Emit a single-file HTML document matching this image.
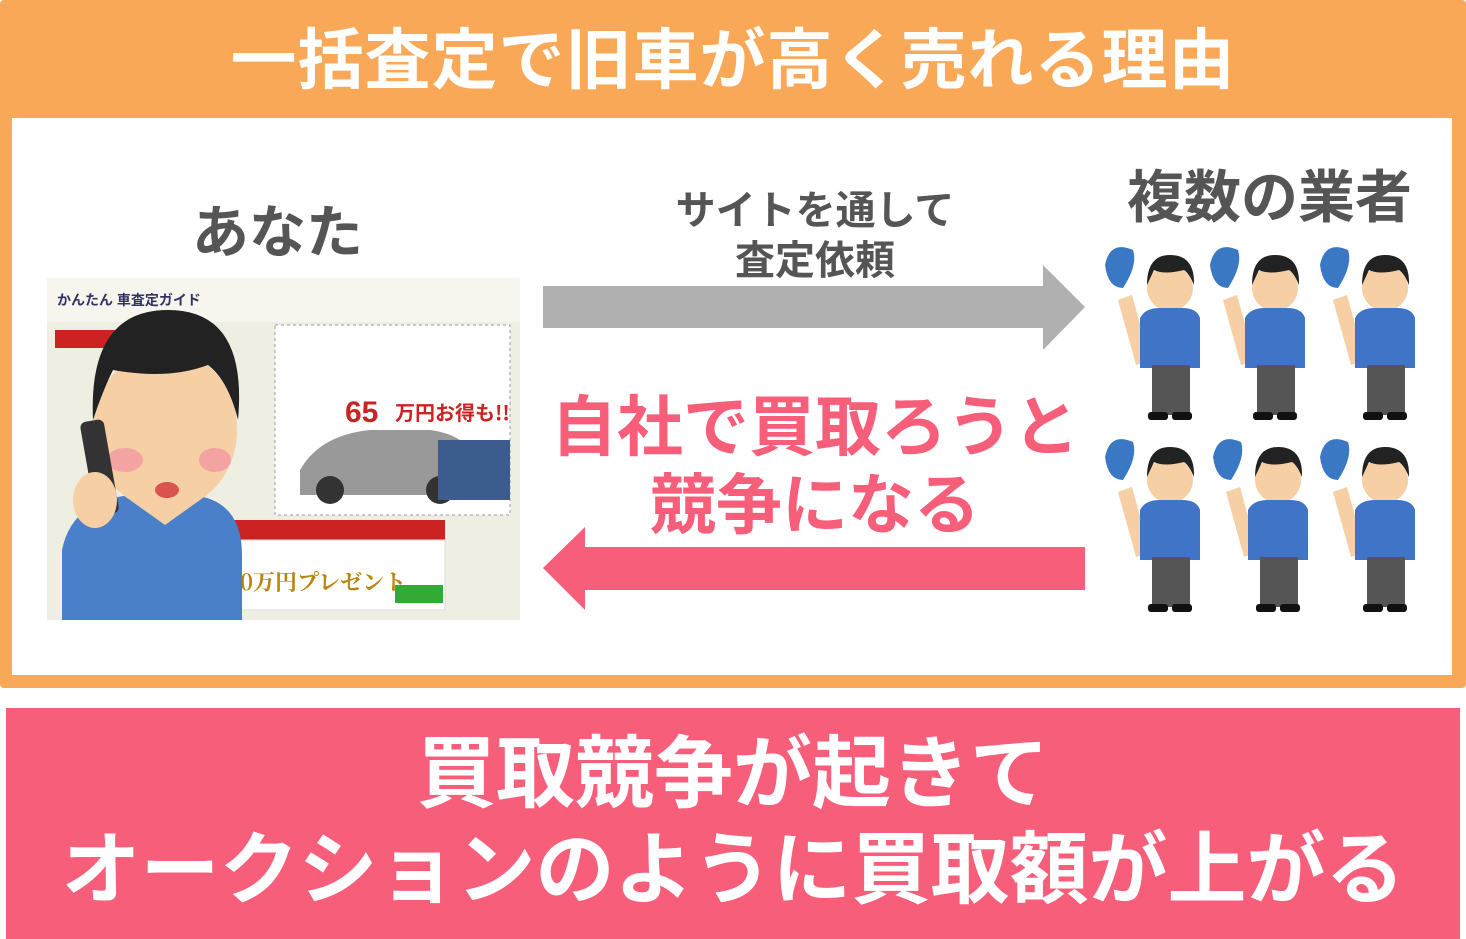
<!DOCTYPE html>
<html><head><meta charset="utf-8"><style>
body{margin:0;width:1466px;height:939px;background:#fff;position:relative;overflow:hidden;font-family:"Liberation Sans","Noto Sans CJK JP",sans-serif;font-weight:bold}
.a{position:absolute;white-space:nowrap}
</style></head><body>
<div class="a" style="left:0;top:0;width:1466px;height:688px;background:#F9A857;border-radius:4px"></div>
<div class="a" style="left:12px;top:118px;width:1440px;height:557px;background:#fff"></div>
<div class="a" style="left:0;top:20px;width:1466px;text-align:center;color:#fff;font-size:66px;line-height:80px;letter-spacing:1px">一括査定で旧車が高く売れる理由</div>
<div class="a" style="left:6px;top:708px;width:1454px;height:231px;background:#F75E7A"></div>
<div class="a" style="left:6px;top:726px;width:1454px;text-align:center;color:#fff;font-size:79px;line-height:96px">買取競争が起きて<br>オークションのように買取額が上がる</div>
<div class="a" style="left:192px;top:200px;color:#555;font-size:57px;line-height:66px">あなた</div>
<div class="a" style="left:1127px;top:165px;color:#555;font-size:57px;line-height:66px">複数の業者</div>
<div class="a" style="left:640px;top:186px;width:350px;text-align:center;color:#555;font-size:40px;line-height:50px">サイトを通して<br>査定依頼</div>
<div class="a" style="left:545px;top:388px;width:540px;text-align:center;color:#F75E7A;font-size:66px;line-height:78px">自社で買取ろうと<br>競争になる</div>
<svg class="a" style="left:0;top:0" width="1466" height="939">
<polygon points="543,286 1043,286 1043,265 1085,307 1043,350 1043,328 543,328" fill="#B0B0B0"/>
<polygon points="1085,547 585,547 585,527 543,568 585,610 585,590 1085,590" fill="#F75E7A"/>
<rect x="47" y="278" width="473" height="342" fill="#EFEEE2"/>
<rect x="47" y="278" width="473" height="44" fill="#F7F6EE"/>
<text x="57" y="305" font-size="14" fill="#336" font-family="Liberation Sans,Noto Sans CJK JP,sans-serif">かんたん 車査定ガイド</text>
<rect x="275" y="325" width="235" height="190" fill="#fff" stroke="#99a" stroke-dasharray="3 3"/>
<path d="M300,470 q20,-35 70,-40 h60 q40,5 55,40 v25 h-185z" fill="#999"/>
<circle cx="330" cy="490" r="14" fill="#333"/><circle cx="440" cy="490" r="14" fill="#333"/>
<rect x="438" y="440" width="72" height="60" fill="#3B5C8C"/>
<text x="345" y="422" font-size="30" fill="#C22" font-family="Liberation Sans,sans-serif">65</text>
<text x="395" y="420" font-size="20" fill="#C22" font-family="Noto Sans CJK JP,sans-serif">万円お得も!!</text>
<rect x="225" y="520" width="220" height="20" fill="#C22"/>
<rect x="225" y="540" width="220" height="70" fill="#fff" stroke="#ddd"/>
<text x="240" y="590" font-size="22" fill="#B8860B" font-family="Noto Serif CJK SC,serif">0万円プレゼント</text>
<rect x="395" y="585" width="48" height="18" fill="#3A3"/>
<rect x="55" y="330" width="60" height="18" fill="#C22"/>
<path d="M62,620 v-70 q10,-50 70,-55 h60 q50,5 50,60 v65z" fill="#4A7FC9"/>
<path d="M130,500 l35,25 l35,-25z" fill="#F6CFA5"/>
<ellipse cx="165" cy="430" rx="72" ry="80" fill="#F6CFA5"/>
<path d="M93,420 q-5,-110 75,-110 q80,0 70,110 q-10,-40 -30,-55 q-40,15 -95,5 q-10,20 -20,50z" fill="#222"/>
<ellipse cx="125" cy="460" rx="18" ry="12" fill="#F4A3A3"/>
<ellipse cx="215" cy="460" rx="16" ry="12" fill="#F4A3A3"/>
<rect x="88" y="420" width="24" height="95" rx="6" fill="#333" transform="rotate(-10 100 470)"/>
<ellipse cx="95" cy="500" rx="22" ry="28" fill="#F6CFA5"/>
<ellipse cx="167" cy="490" rx="12" ry="8" fill="#D9534F"/>
<defs><g id="p">
<path d="M18,60 l14,-5 l18,65 l-14,5z" fill="#F6CFA5"/>
<path d="M5,25 q5,-25 28,-15 q5,15 -10,38 q-15,0 -18,-23z" fill="#3B78C4"/>
<circle cx="70" cy="48" r="23" fill="#F6CFA5"/>
<path d="M47,45 q0,-30 23,-30 q25,0 24,30 q-5,-12 -10,-15 q-20,5 -30,0z" fill="#222"/>
<path d="M40,78 q5,-10 20,-10 h22 q15,0 18,10 v50 h-60z" fill="#3F74C6"/>
<rect x="52" y="125" width="38" height="50" fill="#555"/>
<rect x="48" y="172" width="20" height="8" rx="3" fill="#111"/><rect x="72" y="172" width="20" height="8" rx="3" fill="#111"/>
</g></defs>
<use href="#p" x="1100" y="240"/><use href="#p" x="1205" y="240"/><use href="#p" x="1315" y="240"/>
<use href="#p" x="1100" y="432"/><use href="#p" x="1208" y="432"/><use href="#p" x="1315" y="432"/>
</svg>
</body></html>
